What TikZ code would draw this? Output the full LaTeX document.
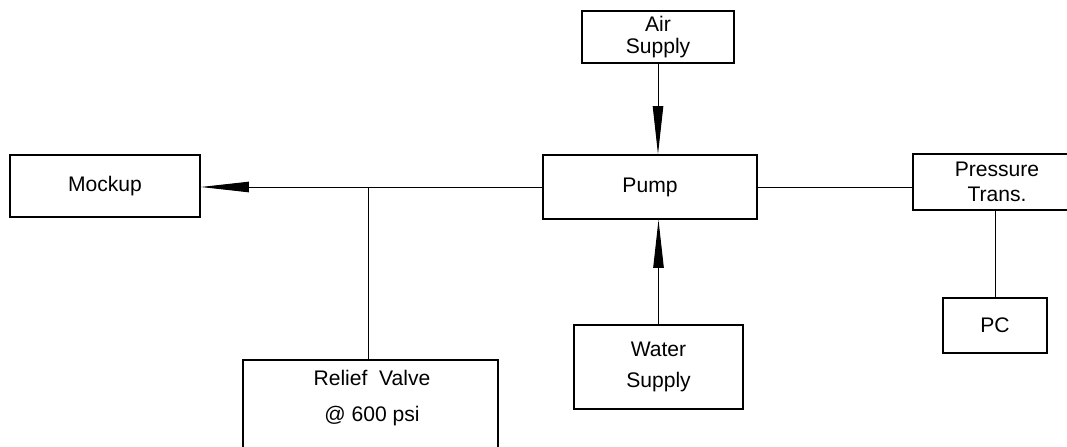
\documentclass[tikz,border=0pt]{standalone}
\usepackage{fontspec}
\setmainfont{Liberation Sans}
\usetikzlibrary{arrows.meta,positioning}

\begin{document}
\begin{tikzpicture}[x=0.025cm,y=-0.025cm,
    box/.style={draw,line width=1.1pt,align=center,inner sep=0pt,font=\fontsize{15}{15}\selectfont},
    pipe/.style={line width=0.7pt},
    feed/.style={pipe,-{Triangle[length=12mm,width=2.6mm]}}]
            \useasboundingbox (0,0) rectangle (1067,447);
            \clip (0,0) rectangle (1067,447);
            \node[box,minimum width=3.8cm,minimum height=1.3cm] (air) at (658,37) {Air\\Supply};
            \node[box,minimum width=5.35cm,minimum height=1.6cm] (pump) at (650,187) {Pump};
            \node[box,minimum width=4.75cm,minimum height=1.55cm] (mock) at (105,186) {Mockup};
            \node[box,minimum width=4.2cm,minimum height=1.4cm] (ptrans) at (997,182) {Pressure\\[2.8pt]Trans.};
            \node[box,minimum width=2.6cm,minimum height=1.375cm] (pc) at (995,325.5) {PC};
            \node[box,minimum width=4.225cm,minimum height=2.1cm] (water) at (658.5,367) {Water\\[7pt]Supply};
            \node[box,minimum width=6.375cm,minimum height=2.75cm,anchor=north] (relief) at (370.5,359) {};
            \node[align=center,font=\fontsize{15}{15}\selectfont] (relieftxt) at (372,398) {Relief~~Valve\\[10.6pt]@ 600 psi};
            \coordinate (tee) at (368,187);
            \draw[feed] (air.south) -- (air.south |- pump.north);
            \draw[feed] (water.north) -- (water.north |- pump.south);
            \draw[feed] (pump.west) -- (pump.west -| mock.east);
            \draw[pipe] (tee) -- (tee |- relief.north);
            \draw[pipe] (pump.east) -- (pump.east -| ptrans.west);
            \draw[pipe] (ptrans.south -| pc.north) -- (pc.north);
\end{tikzpicture}
\end{document}
